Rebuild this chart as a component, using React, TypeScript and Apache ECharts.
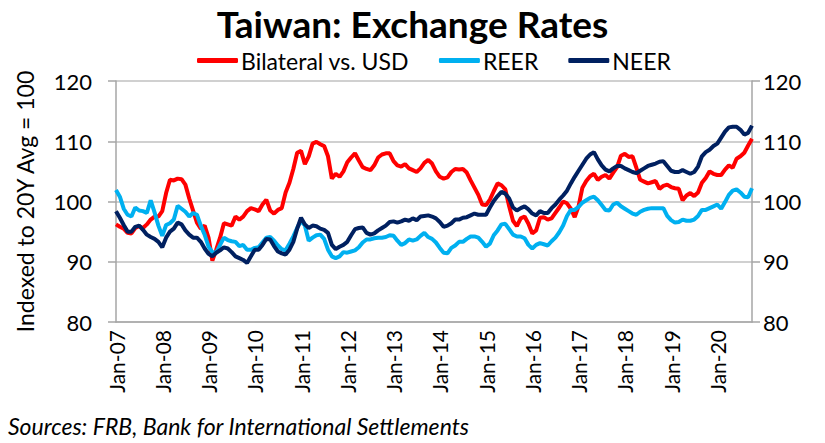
import React, { useEffect, useRef } from "react";
import * as echarts from "echarts";

const monthNames = ["Jan", "Feb", "Mar", "Apr", "May", "Jun", "Jul", "Aug", "Sep", "Oct", "Nov", "Dec"];
const startYear = 2007;
const monthCount = 166; // Jan-07 .. Oct-20

const categories: string[] = [];
for (let i = 0; i < monthCount; i++) {
  const y = startYear + Math.floor(i / 12);
  categories.push(`${monthNames[i % 12]}-${String(y % 100).padStart(2, "0")}`);
}

const bilateralUSD = [
  96.2, 95.8, 95.5, 94.8, 94.7, 95.6, 95.9, 95.6, 96.2, 97.0,
  97.5, 97.5, 98.4, 101.4, 103.6, 103.5, 103.8, 103.7, 102.8, 100.5,
  98.5, 96.5, 95.5, 96.0, 94.0, 90.2, 92.0, 94.0, 96.4, 96.2,
  96.0, 97.5, 97.0, 97.5, 98.4, 98.9, 98.7, 98.4, 99.5, 100.3,
  98.5, 98.0, 98.6, 98.9, 101.5, 103.1, 105.4, 108.1, 108.4, 106.2,
  107.5, 109.6, 109.9, 109.5, 109.2, 107.5, 103.8, 104.6, 104.1, 105.0,
  106.5, 107.3, 108.0, 106.8, 105.7, 105.4, 105.2, 106.0, 107.3, 107.8,
  108.0, 108.0, 106.7, 106.0, 105.8, 106.2, 105.5, 105.2, 104.9, 105.5,
  106.4, 106.9, 106.3, 105.0, 104.1, 103.8, 104.0, 104.9, 105.4, 105.3,
  105.4, 104.8, 103.5, 102.3, 101.1, 99.5, 99.4, 100.3, 101.7, 103.0,
  102.7, 102.0, 99.2, 96.8, 95.9, 97.2, 97.5, 96.3, 94.7, 95.2,
  97.3, 97.4, 97.0, 97.2, 98.1, 99.0, 100.0, 99.7, 98.8, 97.4,
  99.2, 102.3, 103.4, 104.2, 104.6, 103.6, 104.1, 104.4, 103.8, 104.8,
  105.7, 107.6, 107.9, 107.4, 107.5, 105.6, 103.6, 103.3, 103.0, 103.2,
  103.4, 102.1, 102.6, 102.8, 102.4, 102.2, 102.1, 100.2, 101.0, 101.4,
  100.9, 101.5, 103.1, 103.9, 105.0, 104.6, 104.4, 104.4, 105.3, 106.0,
  105.6, 107.1, 107.5, 108.1, 109.3, 110.4,
];

const reer = [
  101.9, 100.8, 98.8, 97.8, 97.5, 99.0, 98.5, 98.4, 98.1, 100.2,
  98.2, 96.0, 94.3, 96.1, 96.4, 97.0, 99.3, 98.8, 98.3, 97.5,
  98.1, 97.8, 96.0, 94.5, 92.5, 91.6, 91.5, 92.8, 94.0, 93.6,
  93.4, 93.3, 92.6, 92.8, 92.0, 92.0, 92.3, 92.4, 93.2, 94.0,
  94.1, 93.5, 92.7, 92.1, 91.9, 93.0, 94.2, 95.6, 96.8, 96.0,
  93.5, 94.0, 94.4, 94.5, 93.8, 92.0, 90.9, 90.6, 90.9, 91.6,
  91.5, 91.7, 91.9, 92.4, 93.2, 93.7, 93.7, 93.9, 94.0, 94.0,
  94.1, 94.4, 94.3, 93.5, 92.8, 93.1, 93.7, 93.5, 93.7, 94.3,
  94.8, 94.1, 93.8, 93.2, 92.3, 91.5, 91.4, 92.3, 92.7, 93.3,
  93.3, 93.8, 94.2, 94.2, 94.0, 93.3, 92.5, 93.0, 94.4, 95.2,
  96.2, 96.3, 95.4, 94.5, 94.2, 94.2, 93.9, 92.8, 92.2, 92.8,
  93.1, 92.9, 92.7, 93.4, 94.0, 94.9, 96.0, 97.6, 98.6, 98.6,
  99.1, 99.8, 100.2, 100.6, 100.8, 100.2, 99.4, 98.6, 98.5, 99.5,
  99.8, 99.2, 98.8, 98.4, 98.0, 97.8, 98.3, 98.6, 98.8, 98.9,
  98.9, 98.9, 98.9, 97.6, 96.9, 96.5, 96.6, 97.0, 96.8, 96.8,
  97.0, 97.6, 98.6, 98.6, 98.9, 99.2, 99.5, 98.8, 99.9, 101.1,
  101.8, 102.0, 101.5, 100.8, 100.7, 102.2,
];

const neer = [
  98.4, 97.3, 96.1, 95.0, 95.0, 95.8, 96.0, 95.3, 94.5, 94.1,
  93.8, 93.3, 92.4, 94.0, 95.0, 95.5, 96.5, 96.2, 95.2, 94.5,
  94.0, 94.0, 93.3, 92.2, 91.3, 90.9, 91.5, 91.9, 92.4, 92.2,
  91.6, 90.9, 90.6, 90.3, 89.8, 90.9, 92.0, 92.0, 92.8, 93.8,
  93.7, 92.6, 91.7, 91.4, 91.2, 92.0, 93.3, 95.5, 97.3, 96.2,
  95.6, 96.0, 95.9, 95.5, 95.3, 94.8, 92.8, 92.1, 92.5, 92.8,
  93.3, 94.4, 95.4, 95.6, 95.7, 94.8, 94.5, 94.7, 95.2, 95.6,
  96.0, 96.6, 96.7, 96.5, 96.7, 97.0, 96.8, 97.2, 96.9, 97.5,
  97.6, 97.7, 97.5, 97.2, 96.6, 95.8, 96.0, 96.4, 97.0, 97.0,
  97.3, 97.4, 97.7, 98.0, 97.8, 97.8, 97.8, 99.0, 100.1, 100.9,
  101.6, 101.3, 100.5, 99.0, 98.5, 98.9, 99.2, 98.7, 98.0, 97.7,
  98.4, 98.1, 98.1, 98.9, 99.5, 100.3, 101.0, 101.8, 103.0, 104.1,
  105.1, 106.1, 107.1, 107.8, 108.2, 107.0, 106.0, 105.3, 105.0, 105.5,
  105.9, 105.9, 105.5, 105.2, 104.9, 104.7, 105.1, 105.5, 105.9, 106.1,
  106.3, 106.6, 106.7, 105.9, 105.1, 104.9, 104.9, 105.2, 104.9, 104.6,
  104.9, 105.8, 107.5, 108.2, 108.6, 109.2, 109.6, 110.6, 111.6, 112.3,
  112.4, 112.4, 111.9, 111.1, 111.4, 112.6,
];

const yTicks = { min: 80, max: 120, interval: 10 };

const FONT = "Lato";
const AXIS_GRAY = "#a6a6a6";
const GRID_GRAY = "#c0c0c0";

export default function App() {
  const ref = useRef<HTMLDivElement>(null);

  useEffect(() => {
    if (!ref.current) return;
    const chart = echarts.init(ref.current, null, { renderer: "svg" });
    const yAxisCommon = {
      type: "value" as const,
      min: yTicks.min,
      max: yTicks.max,
      interval: yTicks.interval,
      axisLine: { show: true, lineStyle: { color: AXIS_GRAY, width: 1.5 } },
      axisTick: { show: true, length: 8, lineStyle: { color: AXIS_GRAY, width: 1.5 } },
    };
    chart.setOption({
      animation: false,
      backgroundColor: "#ffffff",
      title: {
        text: "Taiwan: Exchange Rates",
        left: "center",
        top: 0,
        textStyle: { fontFamily: FONT, fontWeight: "bold", fontSize: 37, color: "#000" },
      },
      legend: {
        top: 44,
        left: 192,
        itemWidth: 41,
        itemHeight: 5,
        itemGap: 30,
        icon: "roundRect",
        textStyle: { fontFamily: FONT, fontSize: 23, color: "#000", padding: [0, 0, 0, -2] },
        data: ["Bilateral vs. USD", "REER", "NEER"],
      },
      grid: { left: 116, right: 73, top: 81, bottom: 121, containLabel: false },
      xAxis: {
        type: "category",
        data: categories,
        boundaryGap: false,
        axisLine: { show: true, lineStyle: { color: AXIS_GRAY, width: 1.5 } },
        axisTick: { show: false },
        axisLabel: {
          interval: 11,
          rotate: 90,
          margin: 8,
          fontFamily: FONT,
          fontSize: 21,
          color: "#000",
        },
        splitLine: { show: false },
      },
      yAxis: [
        {
          ...yAxisCommon,
          position: "left",
          name: "Indexed to 20Y Avg = 100",
          nameLocation: "middle",
          nameGap: 80,
          nameTextStyle: { fontFamily: FONT, fontSize: 23, color: "#000" },
          axisLabel: { margin: 24, fontFamily: FONT, fontSize: 22, color: "#000" },
          splitLine: { show: true, lineStyle: { color: GRID_GRAY, width: 1.5 } },
        },
        {
          ...yAxisCommon,
          position: "right",
          axisLabel: { margin: 11, fontFamily: FONT, fontSize: 22, color: "#000" },
          splitLine: { show: false },
        },
      ],
      series: [
        {
          name: "Bilateral vs. USD",
          type: "line",
          data: bilateralUSD,
          yAxisIndex: 0,
          showSymbol: false,
          color: "#ff0000",
          lineStyle: { width: 4, color: "#ff0000" },
        },
        {
          name: "REER",
          type: "line",
          data: reer,
          yAxisIndex: 0,
          showSymbol: false,
          color: "#00b0f0",
          lineStyle: { width: 4, color: "#00b0f0" },
        },
        {
          name: "NEER",
          type: "line",
          data: neer,
          yAxisIndex: 0,
          showSymbol: false,
          color: "#002060",
          lineStyle: { width: 4, color: "#002060" },
        },
      ],
      graphic: [
        {
          type: "text",
          left: 8,
          top: 414,
          style: {
            text: "Sources: FRB, Bank for International Settlements",
            fontFamily: FONT,
            fontStyle: "italic",
            fontSize: 23,
            fill: "#000",
          },
        },
      ],
    });
    return () => chart.dispose();
  }, []);

  return (
    <div
      ref={ref}
      style={{ position: "fixed", left: 0, top: 0, width: 825, height: 443, background: "#fff" }}
    />
  );
}
